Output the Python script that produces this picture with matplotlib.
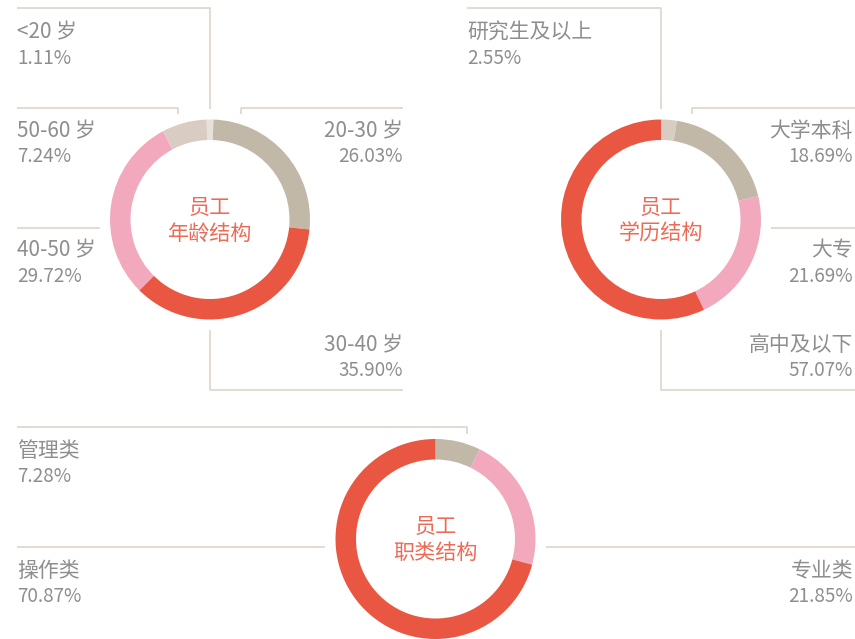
import matplotlib
matplotlib.use("Agg")
import matplotlib.pyplot as plt

plt.rcParams['font.family'] = ['Noto Sans CJK SC', 'DejaVu Sans']

W, H = 855, 639

# ---- data ----
age_labels = ['<20 岁', '20-30 岁', '30-40 岁', '40-50 岁', '50-60 岁']
age_values = [1.11, 26.03, 35.90, 29.72, 7.24]

edu_labels = ['研究生及以上', '大学本科', '大专', '高中及以下']
edu_values = [2.55, 18.69, 21.69, 57.07]

job_labels = ['管理类', '专业类', '操作类']
job_values = [7.28, 21.85, 70.87]

titles = ['员工\n年龄结构', '员工\n学历结构', '员工\n职类结构']

# ---- style ----
TAN = '#c1b8a7'
RED = '#e95641'
PINK = '#f2a9bd'
BEIGE = '#d9ccc3'
LIGHT = '#e8e1da'
LINE = '#ddd5cc'
TXT = '#8e8e8e'
CTXT = '#ef6a55'
FS_NAME = 15.0
FS_NUM = 13.6
FS_C = 15.2

age_colors = [LIGHT, TAN, RED, PINK, BEIGE]
edu_colors = [BEIGE, TAN, PINK, RED]
job_colors = [TAN, PINK, RED]

fig = plt.figure(figsize=(W / 100, H / 100), dpi=100)
ax = fig.add_axes([0, 0, 1, 1])


def Y(py):
    return H - py


def donut(values, colors, cx, cy, startangle):
    ax.pie(values, colors=colors, center=(cx, Y(cy)), radius=100,
           startangle=startangle, counterclock=False,
           wedgeprops=dict(width=20.5, linewidth=0))


def line(xs, ys):
    ax.plot(xs, [Y(v) for v in ys], color=LINE, lw=1.2, solid_capstyle='butt')


def label(x, y, name, value, ha='left'):
    ax.text(x, Y(y), name, ha=ha, va='center', fontsize=FS_NAME, color=TXT)
    ax.text(x, Y(y + 26), f'{value:.2f}%', ha=ha, va='center', fontsize=FS_NUM, color=TXT)


def center_text(cx, cy, t):
    a, b = t.split('\n')
    ax.text(cx, Y(cy - 12), a, ha='center', va='center', fontsize=FS_C, color=CTXT)
    ax.text(cx, Y(cy + 14), b, ha='center', va='center', fontsize=FS_C, color=CTXT)


# ---- donut 1: age ----
c1 = (210, 219.5)
donut(age_values, age_colors, c1[0], c1[1], 90 + age_values[0] * 3.6 / 2)
center_text(c1[0], c1[1], titles[0])
line([17, 210, 210], [8, 8, 109])
line([17, 178, 178], [108, 108, 114])
line([403, 241, 241], [108, 108, 114])
line([17, 100], [228, 228])
line([210, 210, 403], [330, 390, 390])
label(17, 32, age_labels[0], age_values[0])
label(17, 131, age_labels[4], age_values[4])
label(403, 131, age_labels[1], age_values[1], 'right')
label(17, 250, age_labels[3], age_values[3])
label(403, 345, age_labels[2], age_values[2], 'right')

# ---- donut 2: education ----
c2 = (661, 219.5)
donut(edu_values, edu_colors, c2[0], c2[1], 90)
center_text(c2[0], c2[1], titles[1])
line([467, 661, 661], [8, 8, 109])
line([855, 692, 692], [108, 108, 114])
line([771, 855], [228, 228])
line([661, 661, 855], [330, 390, 390])
label(467, 32, edu_labels[0], edu_values[0])
label(853, 131, edu_labels[1], edu_values[1], 'right')
label(853, 250, edu_labels[2], edu_values[2], 'right')
label(853, 345, edu_labels[3], edu_values[3], 'right')

# ---- donut 3: job type ----
c3 = (435.5, 539)
donut(job_values, job_colors, c3[0], c3[1], 90)
center_text(c3[0], c3[1], titles[2])
line([17, 467, 467], [427, 427, 434])
line([17, 325], [547, 547])
line([546, 855], [547, 547])
label(17, 451, job_labels[0], job_values[0])
label(17, 571, job_labels[2], job_values[2])
label(853, 571, job_labels[1], job_values[1], 'right')

ax.set_xlim(0, W)
ax.set_ylim(0, H)
ax.set_aspect('equal', adjustable='box')
ax.axis('off')

fig.savefig('out.png', dpi=100, facecolor='white')
